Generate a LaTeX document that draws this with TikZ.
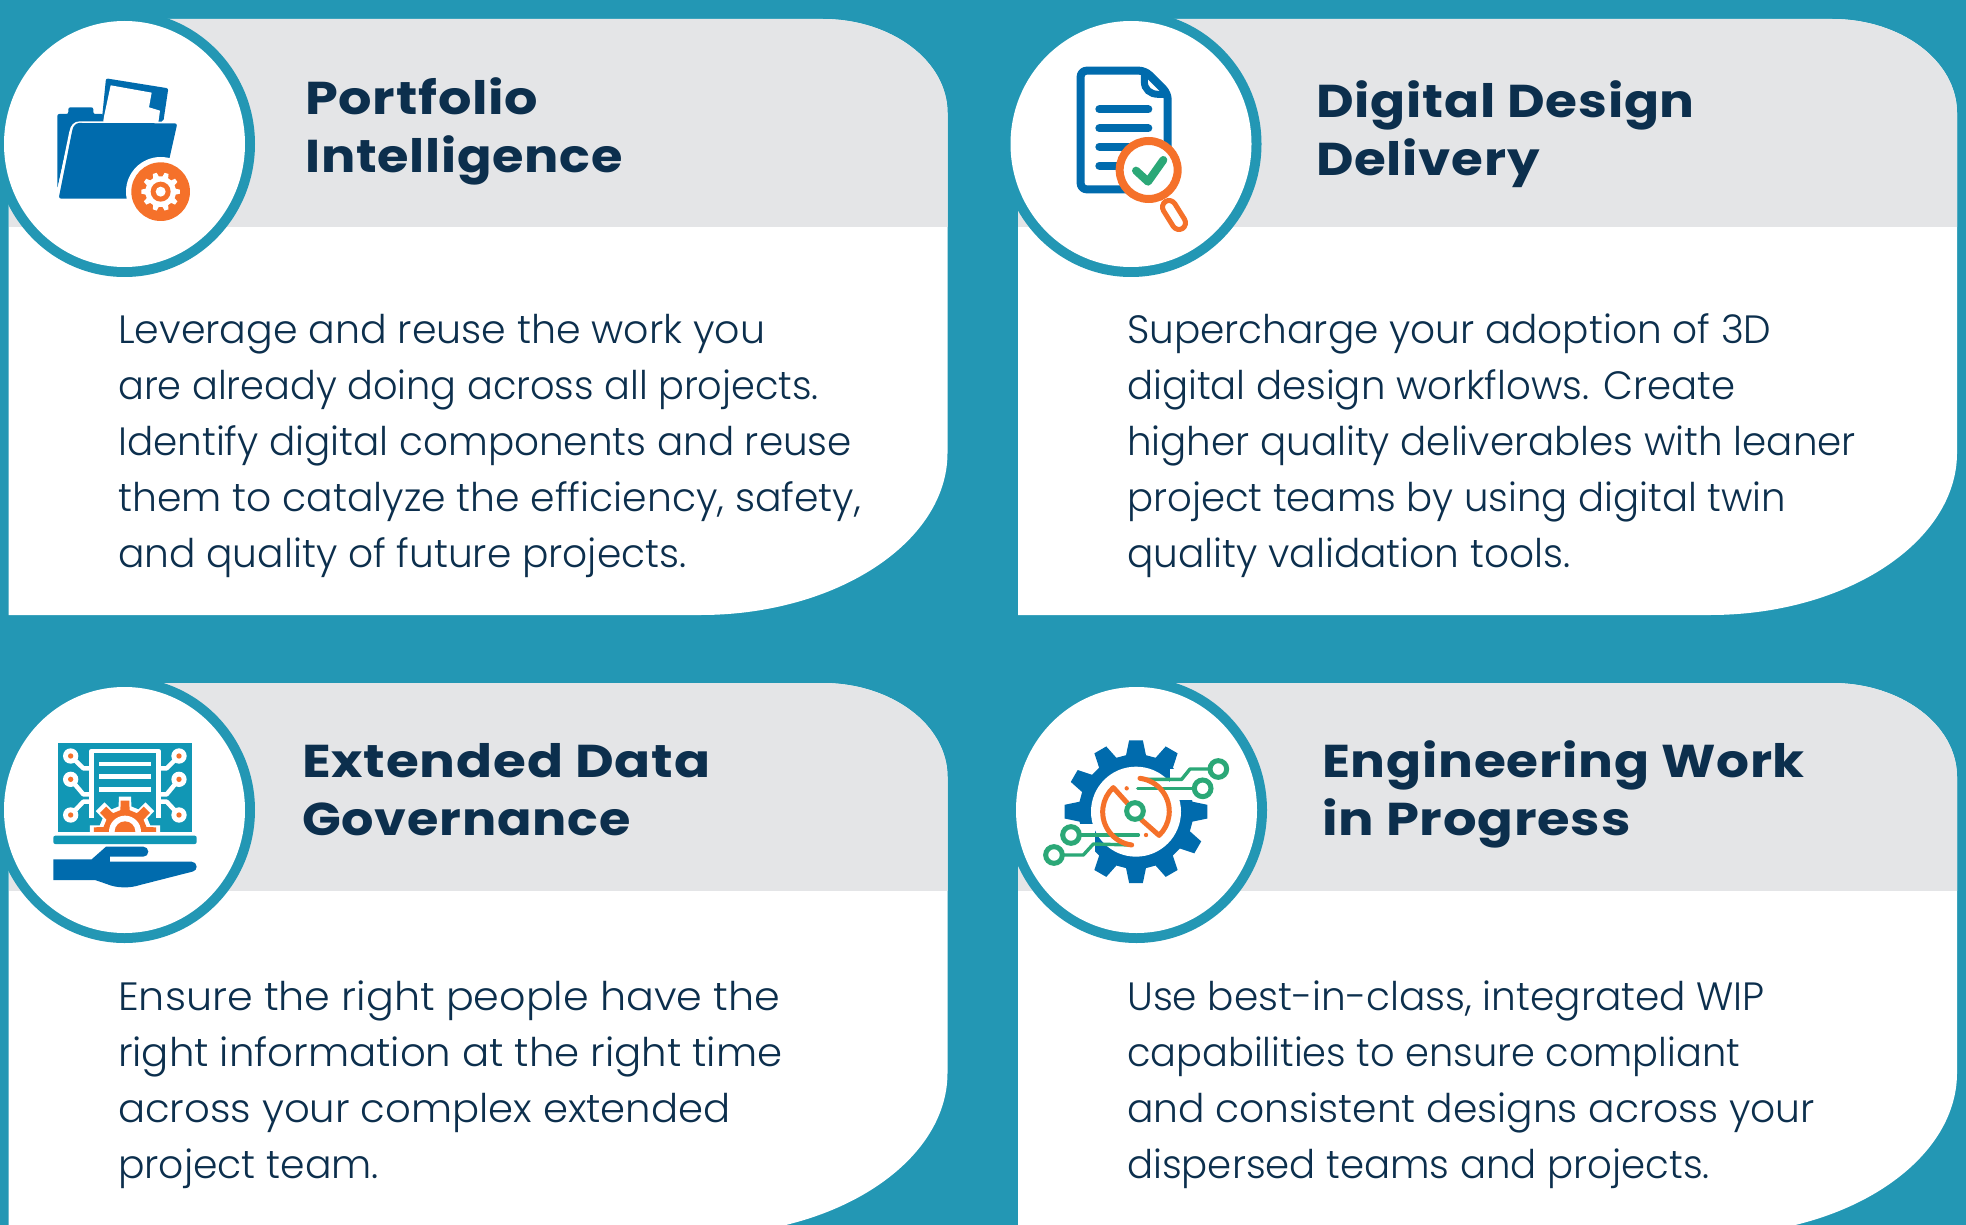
\documentclass[tikz,border=0pt]{standalone}
\usepackage{graphicx}
\usepackage{fontspec}
\newfontfamily\bodyf{Poppins}[UprightFont=* Light]
\newfontfamily\titlef{Poppins}[UprightFont=* Bold,LetterSpace=1.5]
\definecolor{tealbg}{HTML}{2397B4}
\definecolor{greyhd}{HTML}{E4E5E7}
\definecolor{navy}{HTML}{0C2F4D}
\definecolor{iblue}{HTML}{006BAD}
\definecolor{iorange}{HTML}{F5712A}
\definecolor{igreen}{HTML}{2BA877}
\definecolor{iteal}{HTML}{1197B5}
\newcommand{\ls}[2]{\scalebox{#1}[1]{#2}}
\tikzset{
  titletext/.style={anchor=base west,inner sep=0pt,align=left,text=navy,font=\titlef\fontsize{46}{58}\selectfont},
  bodytext/.style={anchor=base west,inner sep=0pt,align=left,text=navy,font=\bodyf\fontsize{39.5}{56}\selectfont},
  iconzoom/.style={x=0.33333pt,y=-0.33333pt},
  docline/.style={iblue,line width=8pt,line cap=round},
  oline/.style={iorange,line width=5pt,line cap=round,line join=round},
  gline/.style={igreen,line width=3.4pt,line join=round,line cap=round},
  gring/.style={draw=igreen,line width=5pt,fill=white},
  wline/.style={white,line width=4.5pt,line join=round},
}
% #1 x, #2 y, #3 circle cx, #4 circle cy (relative), #5 height
\newcommand{\mycard}[5]{%
  \begin{scope}[shift={(#1,#2)}]
    \path[save path=\cardpath] (0,0) -- (814,0) .. controls (883,0) and (939,42) .. (939,94)
      -- (939,{#5-162}) .. controls (939,{#5-73}) and (828,#5) .. (692,#5) -- (0,#5) -- cycle;
    \fill[white,use path=\cardpath];
    \begin{scope}
      \clip[use path=\cardpath];
      \fill[greyhd] (0,0) rectangle (940,208);
    \end{scope}
    \fill[tealbg] (-10,-20) rectangle (#3,#4);
    \fill[tealbg] (#3,#4) ellipse[x radius=130.5,y radius=133];
    \fill[white] (#3,#4) ellipse[x radius=120.5,y radius=123];
  \end{scope}}
% #1 teeth, #2 inner r, #3 outer r, #4 base half angle, #5 tip half angle
\newcommand{\gearpoly}[5]{%
  ({-(#4)}:#2) \foreach \gi in {1,...,#1}{
    -- ({(\gi-1)*360/#1-(#4)}:#2) -- ({(\gi-1)*360/#1-(#5)}:#3)
    -- ({(\gi-1)*360/#1+(#5)}:#3) -- ({(\gi-1)*360/#1+(#4)}:#2)
  } -- cycle}
\begin{document}
\begin{tikzpicture}[x=1pt,y=-1pt]
\clip (0,0) rectangle (1966,1225);
\fill[tealbg] (0,0) rectangle (1966,1225);
\mycard{8.5}{19}{116}{125}{596}
\mycard{1018}{19}{113}{125}{596}
\mycard{8.5}{683}{116}{127}{552}
\mycard{1018}{683}{118.5}{127}{552}

% ---- titles
\node[titletext] (t1) at (305,173) {\ls{1.142}{Portfolio}\\\ls{1.108}{Intelligence}};
\node[titletext] (t2) at (1316,176) {\ls{1.125}{Digital Design}\\\ls{1.12}{Delivery}};
\node[titletext] (t3) at (302,835) {\ls{1.157}{Extended Data}\\\ls{1.106}{Governance}};
\node[titletext] (t4) at (1322,835) {\ls{1.125}{Engineering Work}\\\ls{1.147}{in Progress}};
% ---- bodies
\node[bodytext] (b1) at (118,567) {Leverage and reuse the work you\\\ls{.969}{are already doing across all projects.}\\\ls{.985}{Identify digital components and reuse}\\\ls{.995}{them to catalyze the efficiency, safety,}\\\ls{.991}{and quality of future projects.}};
\node[bodytext] (b2) at (1127,567) {\ls{.988}{Supercharge your adoption of 3D}\\\ls{.978}{digital design workflows. Create}\\\ls{.983}{higher quality deliverables with leaner}\\\ls{.978}{project teams by using digital twin}\\\ls{.989}{quality validation tools.}};
\node[bodytext] (b3) at (118,1178) {\ls{1.044}{Ensure the right people have the}\\\ls{1.019}{right information at the right time}\\\ls{1.017}{across your complex extended}\\\ls{.995}{project team.}};
\node[bodytext] (b4) at (1127,1178) {\ls{.988}{Use best-in-class, integrated WIP}\\\ls{.97}{capabilities to ensure compliant}\\\ls{.993}{and consistent designs across your}\\\ls{.979}{dispersed teams and projects.}};

% ---- icon 1 folder
\begin{scope}[shift={(0,0)},iconzoom]
  \fill[iblue,rounded corners=2pt] (305,365) -- (318,235) -- (505,265) -- (490,365) -- cycle;
  \fill[white] (308,368) -- (332,256) -- (455,278) -- (447,322) -- (480,332) -- (475,368) -- cycle;
  \fill[iblue,rounded corners=2pt] (172,565) -- (172,342) -- (205,342) -- (205,322) -- (280,322) -- (280,342) -- (310,342) -- (310,370) -- (215,375) -- cycle;
  \fill[white] (172,570) -- (208,395) .. controls (212,375) and (222,364) .. (240,364) -- (310,364) -- (310,372) -- (225,385) -- (178,590) -- cycle;
  \fill[iblue,rounded corners=2.5pt] (176,596) -- (216,395) .. controls (220,378) and (228,369) .. (245,369) -- (532,370) -- (505,490) -- (505,596) -- cycle;
  \fill[white] (482,575) circle[radius=104];
  \fill[white] (380,596) rectangle (560,640);
  \fill[iorange] (482,575) circle[radius=88];
  \begin{scope}[shift={(482,575)}]
    \fill[white] \gearpoly{10}{46}{58}{11}{6};
    \fill[iorange] (0,0) circle[radius=30];
    \fill[white] (0,0) circle[radius=15];
  \end{scope}
\end{scope}

% ---- icon 2 document
\begin{scope}[shift={(1000,0)},iconzoom]
  \draw[iblue,line width=8pt,line join=round,rounded corners=6pt] (435,212) -- (242,212) -- (242,568) -- (503,568) -- (503,280) -- cycle;
  \draw[iblue,line width=7pt] (433,214) -- (433,245) .. controls (433,268) and (450,283) .. (475,283) -- (503,283);
  \foreach \ly in {328,385,440,497} { \draw[docline] (298,\ly) -- (445,\ly); }
  \draw[draw=iorange,fill=white,line width=8pt] (446,510) circle[radius=87];
  \begin{scope}[shift={(522,645)},rotate=32]
    \draw[draw=iorange,fill=white,line width=5pt,rounded corners=7pt] (-20,-48) rectangle (20,48);
  \end{scope}
  \draw[igreen,line width=8pt,line cap=round,line join=round] (408,512) -- (444,545) -- (490,480);
\end{scope}

% ---- icon 3 laptop + hand
\begin{scope}[shift={(0,670)},iconzoom]
  \fill[iteal] (175,220) rectangle (575,485);
  \fill[iteal,rounded corners=2pt] (160,497) rectangle (590,522);
  \fill[iblue] (160,568) -- (275,568) -- (318,530) -- (430,530) arc[start angle=-90,end angle=90,radius=15] -- (330,560) -- (330,575) -- (575,575) arc[start angle=-90,end angle=75,radius=15] -- (420,645) .. controls (390,655) and (350,655) .. (320,642) -- (285,630) -- (160,630) -- cycle;
  \draw[wline] (275,445) -- (275,243) -- (475,243) -- (475,445);
  \foreach \ly in {282,320,358} { \draw[wline] (298,\ly) -- (452,\ly); }
  \draw[wline] (212,258) -- (250,295) -- (275,295);
  \draw[wline] (212,328) -- (250,373) -- (275,373);
  \draw[wline] (212,435) -- (250,395) -- (275,395);
  \draw[wline] (537,258) -- (500,295) -- (475,295);
  \draw[wline] (537,328) -- (500,373) -- (475,373);
  \draw[wline] (537,435) -- (500,395) -- (475,395);
  \foreach \nx/\ny in {212/258,212/328,212/435,537/258,537/328,537/435} {
    \fill[white] (\nx,\ny) circle[radius=23];
    \fill[iorange] (\nx,\ny) circle[radius=8];
  }
  \begin{scope}
    \clip (260,360) rectangle (490,485);
    \begin{scope}[shift={(375,485)}]
      \fill[white] \gearpoly{8}{78}{107}{14}{10};
      \fill[iorange] \gearpoly{8}{66}{94}{12}{8};
      \fill[white] (0,0) circle[radius=48];
      \fill[iorange] (0,0) circle[radius=31];
    \end{scope}
  \end{scope}
\end{scope}

% ---- icon 4 gear + circuit
\begin{scope}[shift={(1000,670)},iconzoom]
  \begin{scope}[shift={(408,425)}]
    \fill[iblue] \gearpoly{12}{172}{215}{10}{5.5};
    \fill[white] (0,0) circle[radius=135];
  \end{scope}
  \fill[white] (510,297) rectangle (660,390);
  \fill[white] (160,463) rectangle (285,556);
  \draw[gline] (440,328) -- (545,328) -- (570,297) -- (630,297);
  \draw[gline] (413,355) -- (585,355);
  \draw[gline] (415,495) -- (240,495);
  \draw[gline] (395,525) -- (280,522) -- (250,555) -- (190,555);
  \draw[oline] (395,525) arc[start angle=97.5,end angle=227,radius=100] -- (405,425);
  \draw[oline] (420,325) arc[start angle=-83,end angle=46,radius=100] -- (425,450);
  \fill[iorange] (380,355) circle[radius=6.5];
  \fill[iorange] (438,495) circle[radius=6.5];
  \foreach \cx/\cy in {655/297,608/355,213/495,162/555,405/423} {
    \draw[gring] (\cx,\cy) circle[radius=25];
  }
\end{scope}
\end{tikzpicture}
\end{document}
